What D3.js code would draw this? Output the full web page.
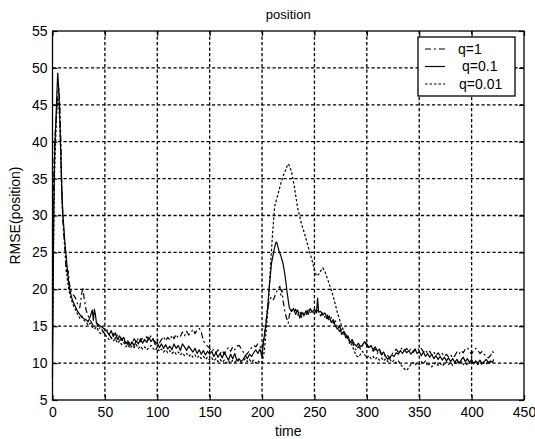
<!DOCTYPE html>
<html>
<head>
<meta charset="utf-8">
<script src="https://cdn.jsdelivr.net/npm/d3@7"></script>
<style>
  body { margin: 0; background: #fff; }
  svg text { font-family: "Liberation Sans", Arial, sans-serif; fill: #000; }
</style>
</head>
<body>
<div id="chart"></div>
<script>
// RMSE(position) over time, three process-noise settings

const xTicks = [0, 50, 100, 150, 200, 250, 300, 350, 400, 450];
const yTicks = [5, 10, 15, 20, 25, 30, 35, 40, 45, 50, 55];
const seriesNames = ['q=1', 'q=0.1', 'q=0.01'];

// q=1 (dash-dot)
const q1 = [
  [0, 20], [1, 34], [2, 40], [3, 42], [4, 44], [5, 46.5], [6, 47.5], [7, 45], [8, 40], [9, 33],
  [10, 29], [11, 27], [12, 25], [13, 22.5], [14, 22], [15, 22.5], [16, 21], [17, 20], [18, 19.6],
  [20, 19.2], [22, 18.8], [24, 18.0], [26, 17.5], [28, 19.5], [29, 20.3], [30, 19.0], [32, 17.2],
  [34, 16.4], [36, 15.8], [38, 15.3], [40, 14.8], [42, 15.6], [44, 14.6], [46, 14.9], [48, 14.3],
  [50, 14.0], [52, 14.5], [54, 13.9], [56, 13.4], [58, 14.0], [60, 13.3], [62, 13.8], [64, 12.9],
  [66, 13.4], [68, 12.7], [70, 13.1], [72, 12.5], [74, 13.0], [76, 12.6], [78, 13.3], [80, 12.8],
  [82, 13.4], [84, 12.9], [86, 13.5], [88, 13.0], [90, 13.6], [92, 13.1], [94, 13.7], [96, 13.2],
  [98, 12.8], [100, 13.3], [102, 12.7], [104, 13.2], [106, 13.6], [108, 13.0], [110, 13.5],
  [112, 13.1], [114, 13.8], [116, 13.3], [118, 13.9], [120, 13.4], [122, 13.6], [124, 14.2],
  [126, 13.7], [128, 14.3], [130, 13.8], [132, 14.1], [134, 14.6], [136, 14.0], [138, 14.5],
  [140, 14.7], [142, 14.2], [144, 13.0], [146, 12.6], [148, 12.3], [150, 12.0], [152, 11.6],
  [154, 11.9], [156, 11.4], [158, 11.8], [160, 11.3], [162, 11.7], [164, 11.2], [166, 11.8],
  [168, 12.1], [170, 11.6], [172, 12.2], [174, 11.8], [176, 12.3], [178, 12.4], [180, 12.0],
  [182, 11.5], [184, 11.0], [186, 11.3], [188, 11.7], [190, 12.1], [192, 12.4], [194, 12.2],
  [196, 12.6], [198, 12.3], [200, 11.8], [201, 12.5], [203, 14.6], [205, 17.2], [207, 18.5],
  [209, 19.0], [211, 18.6], [213, 19.4], [215, 20.0], [217, 20.4], [218, 19.2], [219, 20.0],
  [220, 18.5], [222, 16.8], [224, 15.8], [225, 15.4], [226, 16.5], [228, 17.2], [230, 16.8],
  [232, 17.3], [234, 16.5], [236, 17.0], [238, 16.2], [240, 16.8], [242, 16.5], [244, 17.2],
  [246, 16.8], [248, 17.1], [250, 16.7], [252, 17.4], [254, 16.9], [256, 16.4], [258, 16.8],
  [260, 16.2], [262, 16.6], [264, 15.8], [266, 16.2], [268, 15.4], [270, 15.7], [272, 14.8],
  [274, 14.3], [276, 14.6], [278, 13.7], [280, 13.9], [282, 13.2], [284, 12.5], [286, 12.9],
  [288, 12.2], [290, 11.7], [292, 12.3], [294, 11.9], [296, 12.4], [298, 12.8], [300, 12.4],
  [302, 12.0], [304, 12.3], [306, 11.6], [308, 11.9], [310, 11.3], [312, 11.7], [314, 11.1],
  [316, 11.4], [318, 10.8], [320, 11.0], [322, 10.6], [324, 11.2], [326, 11.6], [328, 11.9],
  [330, 11.5], [332, 11.8], [334, 12.1], [336, 11.7], [338, 12.0], [340, 11.6], [342, 11.9],
  [344, 11.4], [346, 11.8], [348, 12.1], [350, 11.7], [352, 12.0], [354, 11.5], [356, 11.8],
  [358, 11.3], [360, 11.6], [362, 11.1], [364, 11.5], [366, 11.0], [368, 11.4], [370, 11.0],
  [372, 11.3], [374, 10.9], [376, 11.2], [378, 10.8], [380, 11.1], [382, 10.7], [384, 11.0],
  [386, 11.5], [388, 11.2], [390, 11.7], [392, 11.4], [394, 11.9], [396, 12.1], [398, 11.6],
  [400, 11.2], [402, 11.8], [404, 12.0], [406, 11.7], [408, 11.3], [410, 11.6], [412, 11.2],
  [414, 10.9], [416, 10.7], [418, 11.0], [420, 11.6], [421, 11.3]
];

// q=0.1 (solid)
const q01 = [
  [0, 8], [1, 28], [2, 38], [3, 42], [4, 46], [5, 49.3], [6, 47], [7, 43], [8, 38], [9, 33],
  [10, 30], [11, 28], [12, 26], [13, 24.5], [14, 23], [15, 21.5], [16, 20.3], [18, 19],
  [20, 18.2], [22, 17.6], [24, 17], [26, 16.6], [28, 16.2], [30, 16], [32, 15.9], [34, 15.6],
  [36, 16.3], [38, 17.2], [39, 15.8], [40, 17.3], [41, 16.5], [42, 15.4], [44, 15.2], [46, 15.0],
  [48, 14.8], [50, 14.5], [52, 14.3], [54, 13.8], [56, 14.4], [58, 13.6], [60, 14.1], [62, 13.2],
  [64, 13.7], [66, 13.1], [68, 13.5], [70, 12.6], [72, 13.0], [74, 12.4], [76, 12.9], [78, 12.3],
  [80, 13.0], [82, 12.6], [84, 13.3], [86, 12.7], [88, 13.2], [90, 12.8], [92, 13.5], [94, 12.9],
  [96, 13.3], [98, 12.5], [100, 12.8], [102, 12.1], [104, 12.6], [106, 12.0], [108, 12.5],
  [110, 11.9], [112, 12.3], [114, 11.8], [116, 12.6], [118, 12.0], [120, 12.4], [122, 11.7],
  [124, 12.6], [126, 12.2], [128, 11.7], [130, 12.3], [132, 11.9], [134, 11.5], [136, 12.0],
  [138, 11.3], [140, 11.8], [142, 11.2], [144, 11.7], [146, 11.1], [148, 11.6], [150, 11.2],
  [152, 11.6], [154, 10.9], [156, 11.4], [158, 10.8], [160, 11.3], [162, 10.7], [164, 11.5],
  [166, 10.9], [168, 10.4], [170, 11.2], [172, 10.6], [174, 11.3], [176, 10.3], [178, 10.6],
  [180, 10.2], [182, 10.5], [184, 11.0], [186, 10.6], [188, 11.2], [190, 10.9], [192, 11.4],
  [194, 11.8], [196, 11.3], [198, 11.9], [200, 10.8], [201, 12.5], [203, 14.5], [205, 17],
  [207, 20.5], [209, 23.5], [211, 25], [213, 26.3], [214, 26.4], [216, 25.3], [218, 24.5],
  [220, 23.5], [222, 21.8], [224, 19.5], [226, 17.5], [228, 17.0], [230, 17.4], [232, 16.6],
  [234, 17.2], [236, 16.1], [238, 16.9], [240, 16.4], [242, 17.1], [244, 16.6], [246, 17.4],
  [248, 16.9], [250, 17.3], [252, 16.8], [253, 18.8], [254, 16.9], [256, 17.0], [258, 16.5],
  [260, 16.8], [262, 16.0], [264, 16.4], [266, 15.5], [268, 15.9], [270, 15.0], [272, 14.6],
  [274, 15.1], [276, 13.9], [278, 14.3], [280, 13.4], [282, 13.7], [284, 12.8], [286, 13.2],
  [288, 12.6], [290, 12.3], [292, 12.7], [294, 12.2], [296, 12.5], [298, 12.9], [300, 12.6],
  [302, 12.1], [304, 12.4], [306, 11.8], [308, 12.2], [310, 11.6], [312, 11.9], [314, 11.2],
  [316, 11.5], [318, 10.9], [320, 10.5], [322, 10.8], [324, 11.1], [326, 10.9], [328, 11.4],
  [330, 11.2], [332, 11.7], [334, 11.3], [336, 11.8], [338, 11.4], [340, 11.7], [342, 11.2],
  [344, 11.6], [346, 11.9], [348, 11.3], [350, 11.6], [352, 11.0], [354, 11.5], [356, 10.9],
  [358, 11.3], [360, 10.8], [362, 11.2], [364, 10.6], [366, 11.0], [368, 10.5], [370, 10.9],
  [372, 10.4], [374, 10.8], [376, 10.3], [378, 10.7], [380, 10.2], [382, 10.6], [384, 10.1],
  [386, 10.5], [388, 10.0], [390, 10.4], [392, 10.8], [394, 10.2], [396, 10.6], [398, 10.1],
  [400, 10.5], [402, 9.9], [404, 10.3], [406, 10.0], [408, 10.4], [410, 9.9], [412, 10.2],
  [414, 10.5], [416, 10.0], [418, 10.3], [420, 10.1], [421, 10.5]
];

// q=0.01 (dotted)
const q001 = [
  [0, 12], [1, 25], [2, 36], [3, 40], [4, 44], [5, 46], [6, 45], [7, 42.5], [8, 37], [9, 32],
  [10, 29.5], [11, 27.5], [12, 25.5], [13, 23.5], [14, 21.5], [15, 20.5], [16, 19.6], [18, 18.6],
  [20, 17.8], [22, 17.2], [24, 16.6], [26, 16.1], [28, 16.4], [30, 15.8], [32, 15.6], [34, 15.1],
  [36, 15.4], [38, 14.9], [40, 14.6], [42, 14.9], [44, 14.3], [46, 14.0], [48, 14.3], [50, 13.8],
  [52, 13.6], [54, 13.2], [56, 13.5], [58, 13.0], [60, 13.3], [62, 12.7], [64, 13.0], [66, 12.5],
  [68, 12.8], [70, 12.2], [72, 12.5], [74, 12.0], [76, 12.4], [78, 12.1], [80, 12.5], [82, 12.0],
  [84, 12.3], [86, 11.9], [88, 12.2], [90, 11.8], [92, 12.1], [94, 12.4], [96, 12.0], [98, 11.7],
  [100, 12.1], [102, 11.6], [104, 11.9], [106, 11.5], [108, 11.8], [110, 11.4], [112, 11.7],
  [114, 11.3], [116, 11.6], [118, 11.2], [120, 11.5], [122, 11.1], [124, 11.4], [126, 11.0],
  [128, 11.3], [130, 10.9], [132, 11.2], [134, 10.8], [136, 11.1], [138, 10.7], [140, 11.0],
  [142, 10.6], [144, 10.9], [146, 10.5], [148, 10.8], [150, 10.4], [152, 10.7], [154, 10.3],
  [156, 10.6], [158, 10.2], [160, 10.5], [162, 10.1], [164, 10.4], [166, 10.0], [168, 10.3],
  [170, 10.0], [172, 10.4], [174, 10.1], [176, 10.5], [178, 10.2], [180, 10.0], [182, 10.3],
  [184, 10.6], [186, 10.2], [188, 10.5], [190, 10.1], [192, 10.4], [194, 10.0], [196, 10.3],
  [198, 10.1], [200, 10.0], [202, 11.5], [204, 14.5], [206, 18.0], [208, 23.0], [210, 27.5],
  [212, 31.2], [214, 32.3], [216, 33.3], [218, 34.4], [220, 35.3], [222, 36.0], [224, 36.7],
  [225, 37.0], [226, 36.8], [228, 36.0], [230, 34.6], [232, 32.8], [234, 31.0], [236, 29.8],
  [238, 28.7], [240, 27.8], [242, 26.8], [244, 25.8], [246, 24.8], [248, 23.8], [250, 22.6],
  [252, 21.8], [254, 22.0], [256, 22.5], [258, 22.9], [260, 22.4], [262, 21.6], [264, 20.8],
  [266, 19.9], [268, 19.0], [270, 17.9], [272, 16.8], [274, 15.9], [276, 15.0], [278, 14.4],
  [280, 13.8], [282, 13.3], [284, 12.8], [286, 12.4], [288, 11.6], [290, 11.0], [292, 10.8],
  [294, 11.2], [296, 11.6], [298, 11.1], [300, 10.7], [302, 11.0], [304, 10.6], [306, 10.9],
  [308, 10.5], [310, 10.8], [312, 10.4], [314, 10.7], [316, 10.3], [318, 10.6], [320, 10.2],
  [322, 10.5], [324, 10.1], [326, 10.4], [328, 10.0], [330, 10.3], [332, 9.9], [334, 9.5],
  [336, 9.2], [338, 9.0], [340, 9.4], [342, 9.8], [344, 10.1], [346, 9.7], [348, 10.0],
  [350, 9.8], [352, 10.2], [354, 9.9], [356, 10.3], [358, 9.6], [360, 9.9], [362, 9.5],
  [364, 9.8], [366, 10.1], [368, 9.7], [370, 10.0], [372, 9.6], [374, 9.9], [376, 10.2],
  [378, 9.8], [380, 10.1], [382, 9.7], [384, 10.0], [386, 10.3], [388, 9.9], [390, 10.2],
  [392, 9.8], [394, 10.1], [396, 9.7], [398, 10.0], [400, 10.3], [402, 9.9], [404, 10.2],
  [406, 9.8], [408, 10.1], [410, 9.8], [412, 10.2], [414, 9.9], [416, 10.3], [418, 10.0],
  [420, 10.2]
];

const W = 535;
const H = 439;
const margin = { top: 31, right: 11, bottom: 39, left: 52.5 };
const plotW = W - margin.left - margin.right;
const plotH = H - margin.top - margin.bottom;

const svg = d3.select('#chart')
  .append('svg')
  .attr('width', W)
  .attr('height', H);

const g = svg.append('g')
  .attr('transform', `translate(${margin.left},${margin.top})`);

const x = d3.scaleLinear().domain([0, 450]).range([0, plotW]);
const y = d3.scaleLinear().domain([5, 55]).range([plotH, 0]);

// ── Grid ───────────────────────────────────────────────────────
const grid = g.append('g').attr('class', 'grid')
  .attr('stroke', '#000')
  .attr('stroke-width', 1.3)
  .attr('stroke-dasharray', '3.2,2.3');

grid.selectAll('line.gx')
  .data(xTicks.slice(1, -1))
  .join('line')
  .attr('class', 'gx')
  .attr('x1', (d) => x(d)).attr('x2', (d) => x(d))
  .attr('y1', 0).attr('y2', plotH);

grid.selectAll('line.gy')
  .data(yTicks.slice(1, -1))
  .join('line')
  .attr('class', 'gy')
  .attr('x1', 0).attr('x2', plotW)
  .attr('y1', (d) => y(d)).attr('y2', (d) => y(d));

// ── Lines ──────────────────────────────────────────────────────
const line = d3.line()
  .x((d) => x(d[0]))
  .y((d) => y(d[1]));

const styles = [
  { data: q1, dash: '6,3,2,3' },
  { data: q01, dash: null },
  { data: q001, dash: '2.5,2' },
];

g.append('g').attr('class', 'series')
  .selectAll('path')
  .data(styles)
  .join('path')
  .attr('d', (d) => line(d.data))
  .attr('fill', 'none')
  .attr('stroke', '#000')
  .attr('stroke-width', 1.2)
  .attr('stroke-linejoin', 'round')
  .attr('stroke-dasharray', (d) => d.dash);

// ── Axes ───────────────────────────────────────────────────────
const axisFont = (sel) => {
  sel.select('.domain').remove();
  sel.selectAll('text')
    .style('font-size', '14px')
    .style('font-family', '"Liberation Sans", Arial, sans-serif')
    .attr('fill', '#000');
  sel.selectAll('line').attr('stroke', '#000').attr('stroke-width', 1.2);
};

g.append('g')
  .attr('transform', `translate(0,${plotH})`)
  .call(d3.axisBottom(x).tickValues(xTicks).tickSize(-5).tickPadding(7))
  .call(axisFont);

g.append('g')
  .call(d3.axisLeft(y).tickValues(yTicks).tickSize(-5).tickPadding(5))
  .call(axisFont);

// ticks on top and right, no labels (MATLAB box)
g.append('g')
  .call(d3.axisTop(x).tickValues(xTicks).tickSize(-5).tickFormat(''))
  .call(axisFont);

g.append('g')
  .attr('transform', `translate(${plotW},0)`)
  .call(d3.axisRight(y).tickValues(yTicks).tickSize(-5).tickFormat(''))
  .call(axisFont);

g.append('rect')
  .attr('width', plotW)
  .attr('height', plotH)
  .attr('fill', 'none')
  .attr('stroke', '#000')
  .attr('stroke-width', 1.3);

// ── Labels ─────────────────────────────────────────────────────
svg.append('text')
  .attr('x', margin.left + plotW / 2)
  .attr('y', 19)
  .attr('text-anchor', 'middle')
  .style('font-size', '13px')
  .text('position');

svg.append('text')
  .attr('x', margin.left + plotW / 2)
  .attr('y', 436)
  .attr('text-anchor', 'middle')
  .style('font-size', '14px')
  .text('time');

svg.append('text')
  .attr('transform', `translate(20,${margin.top + plotH / 2}) rotate(-90)`)
  .attr('text-anchor', 'middle')
  .style('font-size', '14px')
  .text('RMSE(position)');

// ── Legend ─────────────────────────────────────────────────────
const legend = svg.append('g').attr('transform', 'translate(418,37)');

legend.append('rect')
  .attr('width', 97)
  .attr('height', 59)
  .attr('fill', '#fff')
  .attr('stroke', '#000')
  .attr('stroke-width', 1.3);

const textX = [40, 44, 41];

const item = legend.selectAll('g.item')
  .data(styles)
  .join('g')
  .attr('class', 'item')
  .attr('transform', (d, i) => `translate(0,${12 + i * 17.5})`);

item.append('line')
  .attr('x1', 7).attr('x2', 27)
  .attr('y1', 0).attr('y2', 0)
  .attr('stroke', '#000')
  .attr('stroke-width', 1.2)
  .attr('stroke-dasharray', (d) => d.dash);

item.append('text')
  .attr('x', (d, i) => textX[i])
  .attr('dy', '0.35em')
  .style('font-size', '14px')
  .text((d, i) => seriesNames[i]);
</script>
</body>
</html>
